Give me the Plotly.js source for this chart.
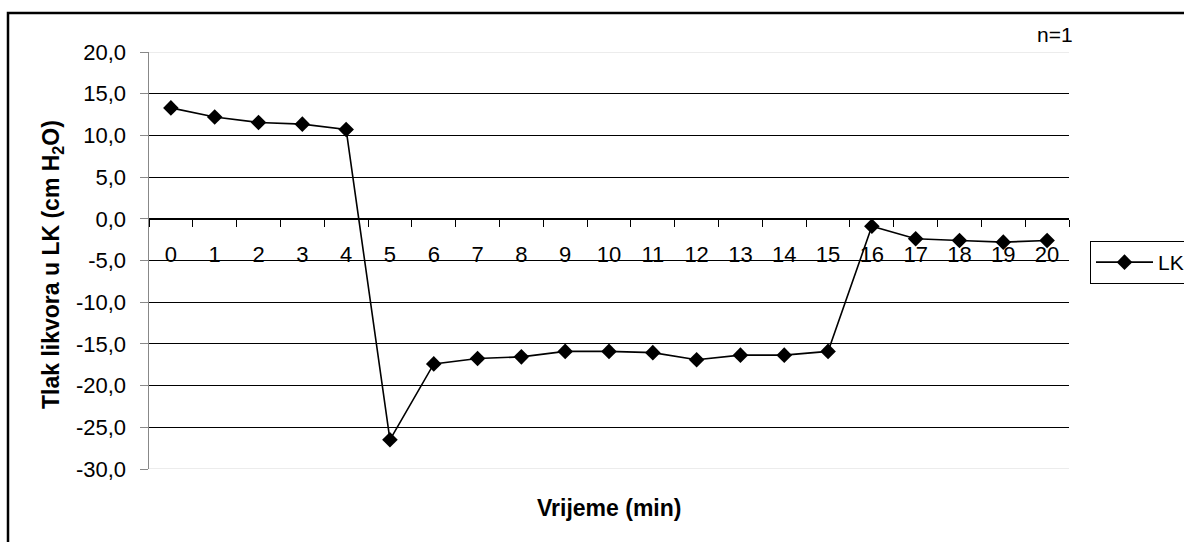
<!DOCTYPE html>
<html>
<head>
<meta charset="utf-8">
<script src="https://cdn.plot.ly/plotly-3.0.1.min.js"></script>
<style>html,body{margin:0;padding:0;background:#fff;overflow:hidden;}#chart{width:1184px;height:542px;}</style>
</head>
<body>
<div id="chart"></div>
<script>
const minutes = ["0","1","2","3","4","5","6","7","8","9","10","11","12","13","14","15","16","17","18","19","20"];
const pressureLK = [13.3, 12.2, 11.55, 11.35, 10.7, -26.5, -17.4, -16.75, -16.55, -15.9, -15.9, -16.05, -16.9, -16.35, -16.35, -15.9, -0.9, -2.4, -2.6, -2.8, -2.6];
const yTicks = [20, 15, 10, 5, 0, -5, -10, -15, -20, -25, -30];
const yTickLabels = yTicks.map(v => v.toFixed(1).replace(".", ","));
const seriesName = "LK";
const xTitle = "Vrijeme (min)";
const yTitle = "Tlak likvora u LK (cm H<sub>2</sub>O)";
const noteText = "n=1";

const W = 1184, H = 542;
const L = 149, R = 115, T = 52, B = 73;
const pw = W - L - R, ph = H - T - B;
const px = v => (v - L) / pw;
const py = v => (H - B - v) / ph;

const FONT = "Liberation Sans, Arial, sans-serif";

const trace = {
  x: minutes,
  y: pressureLK,
  type: "scatter",
  mode: "lines+markers",
  name: seriesName,
  line: {color: "#000", width: 1.6},
  marker: {symbol: "diamond", size: 12, color: "#000"},
  cliponaxis: false
};

const framePath = "M " + px(8) + "," + py(560) + " L " + px(8) + "," + py(13) + " L " + px(1230) + "," + py(13);

const layout = {
  width: W, height: H,
  margin: {l: L, r: R, t: T, b: B, pad: 0, autoexpand: false},
  paper_bgcolor: "#fff",
  plot_bgcolor: "#fff",
  separators: ",.",
  font: {family: FONT, size: 21, color: "#000"},
  showlegend: true,
  legend: {
    x: px(1090), y: py(241), xanchor: "left", yanchor: "top",
    bordercolor: "#000", borderwidth: 1, bgcolor: "#fff",
    font: {family: FONT, size: 21, color: "#000"},
    itemwidth: 57, tracegroupgap: 0
  },
  xaxis: {
    type: "category",
    range: [-0.5, minutes.length - 0.5],
    autorange: false,
    anchor: "free",
    position: 30 / 50,
    showgrid: false,
    zeroline: false,
    showline: true, linecolor: "#000", linewidth: 1,
    ticks: "outside", ticklen: 7, tickcolor: "#000", tickwidth: 1,
    tickson: "boundaries",
    ticklabelstandoff: 16,
    tickfont: {family: FONT, size: 22, color: "#000"},
    fixedrange: true
  },
  yaxis: {
    range: [-30, 20],
    autorange: false,
    tickmode: "array",
    tickvals: yTicks,
    ticktext: yTickLabels,
    showgrid: true, gridcolor: "#000", gridwidth: 1,
    zeroline: false,
    showline: true, linecolor: "#888", linewidth: 1.5,
    ticks: "outside", ticklen: 8, tickcolor: "#888",
    ticklabelstandoff: 9,
    tickfont: {family: FONT, size: 22, color: "#000"},
    fixedrange: true
  },
  shapes: [
    {type: "line", xref: "paper", yref: "y", x0: 0, x1: 1, y0: 20, y1: 20, line: {color: "#e6e6e6", width: 1.5}, layer: "above"},
    {type: "line", xref: "paper", yref: "y", x0: 0, x1: 1, y0: -30, y1: -30, line: {color: "#e6e6e6", width: 1.5}, layer: "above"},
    {type: "path", xref: "paper", yref: "paper", path: framePath, line: {color: "#000", width: 2.5}, fillcolor: "rgba(0,0,0,0)", layer: "above"}
  ],
  annotations: [
    {text: "<b>" + xTitle + "</b>", xref: "paper", yref: "paper", x: px(609), y: py(508), xanchor: "center", yanchor: "middle", showarrow: false, font: {family: FONT, size: 23, color: "#000"}},
    {text: "<b>" + yTitle + "</b>", xref: "paper", yref: "paper", x: px(52), y: py(265), xanchor: "center", yanchor: "middle", textangle: -90, showarrow: false, font: {family: FONT, size: 23, color: "#000"}},
    {text: noteText, xref: "paper", yref: "paper", x: px(1075), y: py(34), xanchor: "right", yanchor: "middle", showarrow: false, font: {family: FONT, size: 21, color: "#000"}}
  ]
};

Plotly.newPlot("chart", [trace], layout, {displayModeBar: false, staticPlot: true});
</script>
</body>
</html>
